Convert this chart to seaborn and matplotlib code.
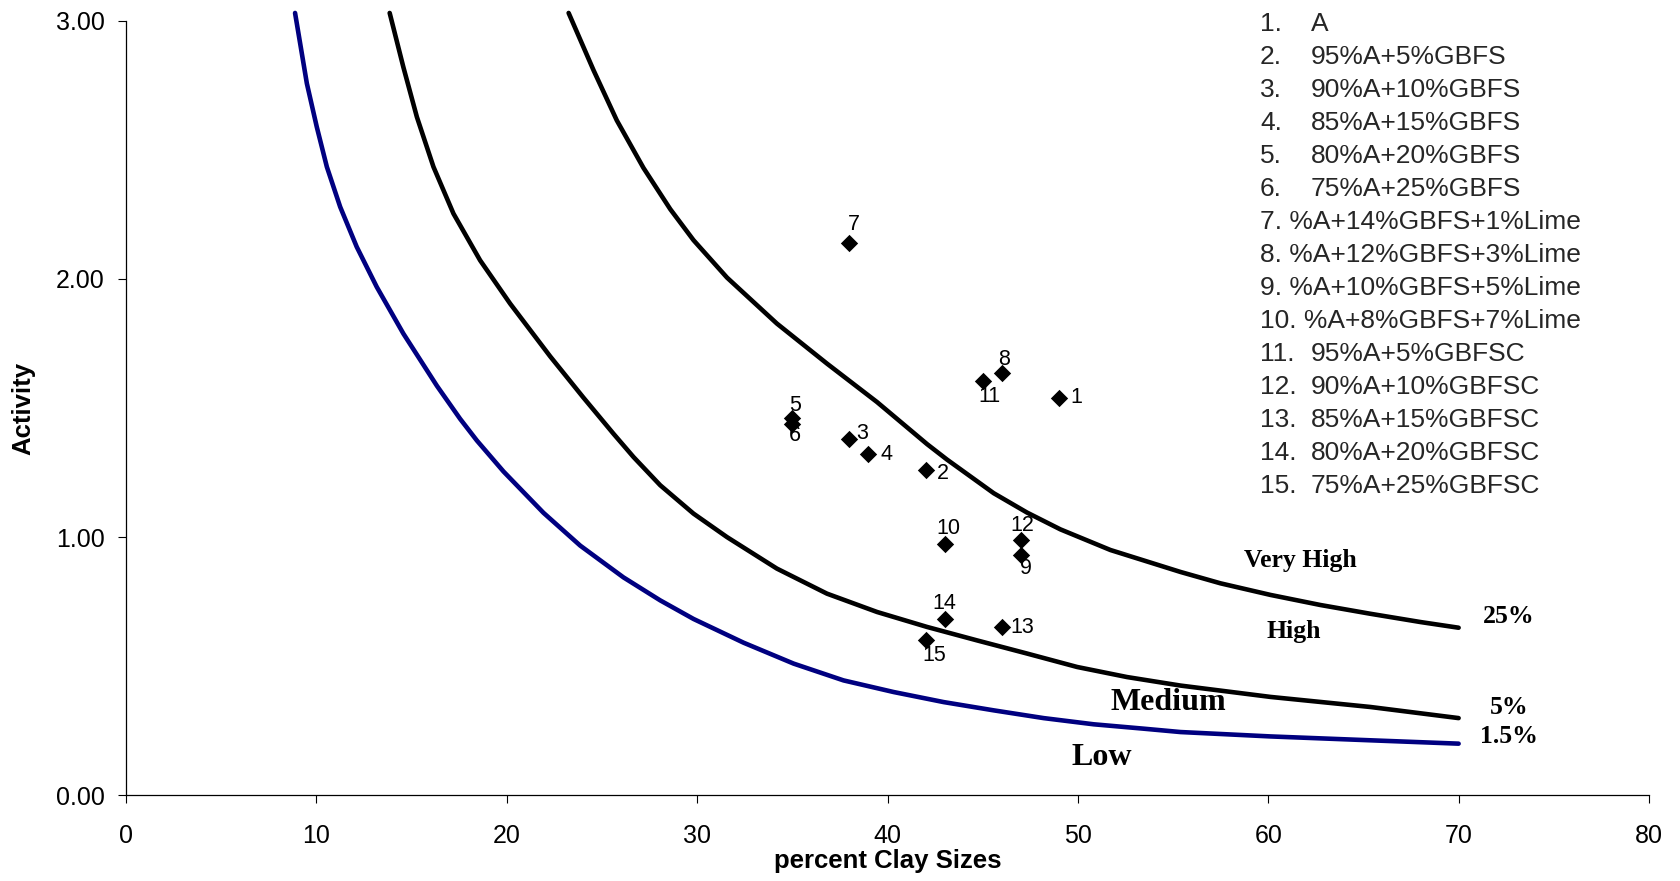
import numpy as np
import pandas as pd
import matplotlib
matplotlib.use("Agg")
import matplotlib.pyplot as plt
import seaborn as sns
from matplotlib.ticker import FormatStrFormatter

# ---------- data ---------- #

# swell potential boundary curves (percent clay sizes vs activity)
clay_15 = [8.88, 9.50, 10.02, 10.55, 11.25, 12.12, 13.17, 14.57, 16.33, 17.55, 18.43, 19.83,
           21.93, 23.86, 26.13, 28.06, 29.81, 32.44, 35.07, 37.69, 40.32, 42.95, 45.58,
           48.2, 50.83, 53.46, 55.39, 60.12, 65.37, 70.0]
act_15 = [3.03, 2.757, 2.589, 2.434, 2.279, 2.124, 1.969, 1.788, 1.586, 1.458, 1.374, 1.254,
          1.094, 0.967, 0.844, 0.755, 0.683, 0.591, 0.510, 0.445, 0.400, 0.361, 0.329,
          0.299, 0.275, 0.258, 0.245, 0.228, 0.213, 0.200]

clay_5 = [13.85, 14.57, 15.28, 16.15, 17.2, 18.6, 20.18, 22.28, 24.03, 25.61, 26.66, 28.06,
          29.81, 31.57, 34.19, 36.82, 39.45, 42.08, 44.7, 47.33, 49.96, 52.58, 55.39,
          60.12, 65.37, 70.0]
act_5 = [3.03, 2.82, 2.627, 2.434, 2.253, 2.072, 1.904, 1.70, 1.54, 1.40, 1.31, 1.201,
         1.091, 1.0, 0.878, 0.781, 0.710, 0.652, 0.600, 0.549, 0.497, 0.458, 0.425,
         0.381, 0.342, 0.299]

clay_25 = [23.25, 24.56, 25.78, 27.18, 28.59, 29.81, 31.57, 34.19, 36.82, 39.45, 42.08, 43.13,
           45.58, 47.33, 49.08, 51.71, 55.39, 57.49, 60.12, 62.74, 65.37, 68.0, 70.0]
act_25 = [3.03, 2.808, 2.614, 2.43, 2.27, 2.15, 2.005, 1.827, 1.672, 1.523, 1.36, 1.30,
          1.17, 1.095, 1.03, 0.95, 0.865, 0.821, 0.776, 0.737, 0.703, 0.671, 0.649]

# samples 1..15
sample_id = [str(i) for i in range(1, 16)]
sample_clay = [49, 42, 38, 39, 35, 35, 38, 46, 47, 43, 45, 47, 46, 43, 42]
sample_act = [1.54, 1.26, 1.38, 1.32, 1.462, 1.439, 2.14, 1.636, 0.929, 0.972, 1.603, 0.99,
              0.651, 0.683, 0.60]

sample_names = ["A", "95%A+5%GBFS", "90%A+10%GBFS", "85%A+15%GBFS", "80%A+20%GBFS",
                "75%A+25%GBFS", "%A+14%GBFS+1%Lime", "%A+12%GBFS+3%Lime",
                "%A+10%GBFS+5%Lime", "%A+8%GBFS+7%Lime", "95%A+5%GBFSC", "90%A+10%GBFSC",
                "85%A+15%GBFSC", "80%A+20%GBFSC", "75%A+25%GBFSC"]

zone_names = ["Very High", "High", "Medium", "Low"]
curve_names = ["25%", "5%", "1.5%"]

# ---------- layout / style ---------- #

# label offsets in pixels (dx, dy) for sample numbers
label_off = {"1": (17, 0), "2": (17, -4), "3": (13, 5), "4": (18, 0), "5": (3, 12),
             "6": (3, -12), "7": (4, 18), "8": (2, 13), "9": (5, -13), "10": (4, 16),
             "11": (7, -15), "12": (2, 14), "13": (21, 0), "14": (0, 15), "15": (9, -15)}

zone_pos = [(61.7, 0.91, 18.5), (61.35, 0.636, 18.5), (54.75, 0.361, 23), (51.27, 0.148, 23)]
curve_lab_pos = [(72.64, 0.693), (72.64, 0.34), (72.64, 0.228)]

sns.set_theme(style="ticks")
plt.rcParams['font.family'] = ['Liberation Sans', 'DejaVu Sans']

W, H = 1680, 881
fig = plt.figure(figsize=(W / 100, H / 100), dpi=100)
ax = fig.add_axes([126 / W, (H - 795.3) / H, (1649 - 126) / W, (795.3 - 20.7) / H])

curves = pd.DataFrame({
    "clay": clay_15 + clay_5 + clay_25,
    "act": act_15 + act_5 + act_25,
    "curve": ["1.5%"] * len(clay_15) + ["5%"] * len(clay_5) + ["25%"] * len(clay_25),
})
for name, col in [("1.5%", "#000080"), ("5%", "black"), ("25%", "black")]:
    sub = curves[curves["curve"] == name]
    sns.lineplot(data=sub, x="clay", y="act", ax=ax, color=col, lw=3.3,
                 estimator=None, sort=False, clip_on=False,
                 solid_joinstyle="round", solid_capstyle="round")

samples = pd.DataFrame({"id": sample_id, "clay": sample_clay, "act": sample_act})
sns.scatterplot(data=samples, x="clay", y="act", ax=ax, marker="D", s=78,
                color="black", edgecolor="black", linewidth=0, zorder=5)

for sid, cx, cy in zip(samples["id"], samples["clay"], samples["act"]):
    dx, dy = label_off[sid]
    ax.annotate(sid, (cx, cy), xytext=(dx, dy), textcoords="offset pixels",
                ha="center", va="center", fontsize=15.5, color="black")

serif = ['Liberation Serif', 'DejaVu Serif']
for name, (zx, zy, fs) in zip(zone_names, zone_pos):
    ax.text(zx, zy, name, ha="center", va="center", fontsize=fs,
            fontweight="bold", family=serif, color="black")
for name, (zx, zy) in zip(curve_names, curve_lab_pos):
    ax.text(zx, zy, name, ha="center", va="center", fontsize=18.5,
            fontweight="bold", family=serif, color="black", clip_on=False)

# numbered key in the upper right
for i, name in enumerate(sample_names):
    ypix = 21.7 + 33 * i + 2
    yf = 1 - ypix / H
    num = f"{i + 1}."
    if 6 <= i <= 9:
        fig.text(1260 / W, yf, f"{num} {name}", ha="left", va="center", fontsize=19)
    else:
        fig.text(1260 / W, yf, num, ha="left", va="center", fontsize=19)
        fig.text(1311 / W, yf, name, ha="left", va="center", fontsize=19)

ax.set_xlim(0, 80)
ax.set_ylim(0, 3)
ax.set_xticks(range(0, 81, 10))
ax.set_yticks([0, 1, 2, 3])
ax.yaxis.set_major_formatter(FormatStrFormatter('%.2f'))
ax.tick_params(axis="both", direction="out", length=5.5, width=0.8, color="black",
               labelsize=18, labelcolor="black")
ax.tick_params(axis="x", pad=15)
ax.tick_params(axis="y", pad=10)
sns.despine(ax=ax)
for sp in ["left", "bottom"]:
    ax.spines[sp].set_color("black")
    ax.spines[sp].set_linewidth(0.9)

ax.set_xlabel("percent Clay Sizes", fontsize=18.5, fontweight="bold", color="black")
ax.set_ylabel("Activity", fontsize=18.5, fontweight="bold", color="black")
ax.xaxis.label.set_va("center")
ax.yaxis.label.set_va("center")
ax.xaxis.set_label_coords(0.5, (795.3 - 861) / (795.3 - 20.7))
ax.yaxis.set_label_coords((23.6 - 126) / (1649 - 126), 0.5)

fig.savefig("out.png", dpi=100, facecolor="white")
